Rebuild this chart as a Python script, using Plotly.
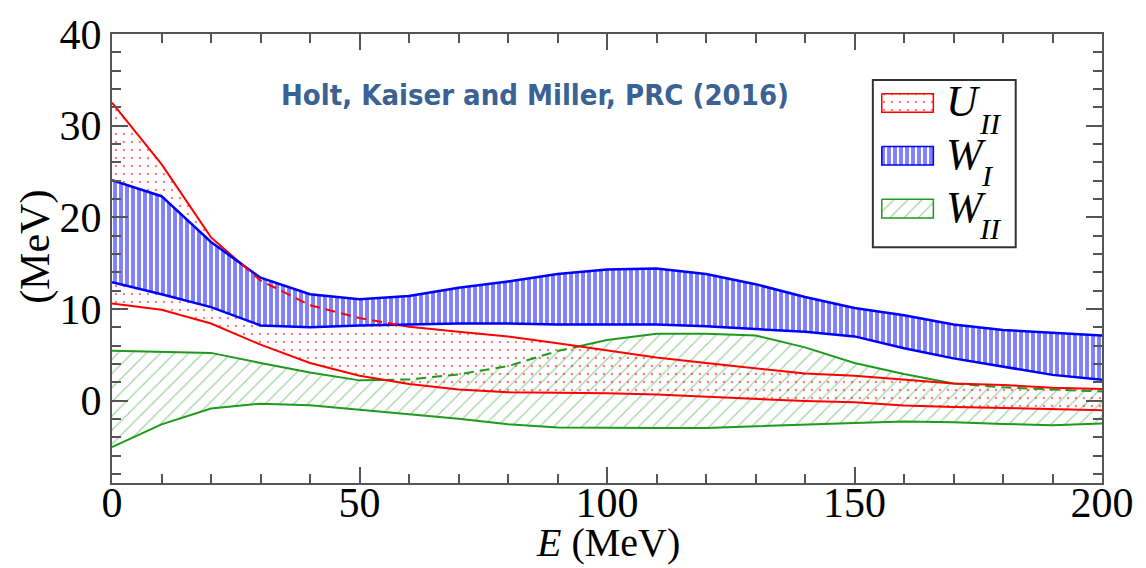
import numpy as np
import plotly.graph_objects as go

# Energy grid (MeV)
E = [0, 10, 20, 30, 40, 50, 60, 70, 80, 90, 100, 110, 120, 130, 140, 150, 160, 170, 180, 190, 200]

# U_II band (MeV)
u2_hi = [32.5, 25.8, 17.8, 13.1, 10.4, 9.0, 8.05, 7.5, 7.0, 6.25, 5.5, 4.7, 4.1, 3.5, 2.95, 2.7, 2.3, 1.87, 1.7, 1.4, 1.26]
u2_lo = [10.6, 9.9, 8.4, 6.1, 4.1, 2.7, 1.8, 1.2, 0.9, 0.85, 0.8, 0.65, 0.4, 0.2, -0.05, -0.2, -0.55, -0.7, -0.8, -0.9, -1.05]

# W_I band (MeV)
w1_hi = [24.05, 22.3, 17.3, 13.4, 11.6, 11.05, 11.4, 12.3, 13.0, 13.8, 14.3, 14.4, 13.8, 12.7, 11.3, 10.1, 9.3, 8.3, 7.7, 7.4, 7.1]
w1_lo = [12.9, 11.6, 10.2, 8.2, 8.0, 8.2, 8.3, 8.4, 8.4, 8.3, 8.3, 8.3, 8.1, 7.8, 7.5, 7.0, 5.7, 4.6, 3.7, 2.8, 2.26]

# W_II band (MeV)
w2_hi = [5.43, 5.3, 5.2, 4.1, 3.05, 2.2, 2.3, 2.85, 3.76, 5.4, 6.6, 7.3, 7.3, 7.1, 5.8, 4.1, 2.9, 1.87, 1.44, 1.2, 0.98]
w2_lo = [-5.07, -2.6, -0.87, -0.34, -0.52, -1.05, -1.5, -2.0, -2.6, -2.95, -3.0, -3.0, -3.0, -2.8, -2.65, -2.45, -2.3, -2.37, -2.55, -2.7, -2.5]

x_ticks = [0, 50, 100, 150, 200]
y_ticks = [0, 10, 20, 30, 40]

RED = "#ff0000"
BLUE = "#0000ff"
GREEN = "#1e9a1e"
AXIS = "#555555"
SERIF = "Liberation Serif, Times New Roman, serif"


def split_by_band(x, y, lo, hi):
    """Split a piecewise-linear curve into the parts outside / inside a band."""
    x = np.asarray(x, float)
    y = np.asarray(y, float)
    g1 = y - np.asarray(lo, float)
    g2 = np.asarray(hi, float) - y
    xb = list(x)
    for g in (g1, g2):
        for i in range(len(x) - 1):
            if g[i] * g[i + 1] < 0:
                t = g[i] / (g[i] - g[i + 1])
                xb.append(x[i] + t * (x[i + 1] - x[i]))
    xb = np.unique(np.array(xb))
    yb = np.interp(xb, x, y)
    out = ([], [])
    ins = ([], [])
    prev = None
    for k in range(len(xb) - 1):
        m = 0.5 * (xb[k] + xb[k + 1])
        inside = np.interp(m, x, g1) > 0 and np.interp(m, x, g2) > 0
        tgt = ins if inside else out
        other = out if inside else ins
        if prev is not None and prev != inside:
            other[0].append(None)
            other[1].append(None)
        if not tgt[0] or tgt[0][-1] != xb[k]:
            tgt[0].append(xb[k])
            tgt[1].append(yb[k])
        tgt[0].append(xb[k + 1])
        tgt[1].append(yb[k + 1])
        prev = inside
    return out, ins


def band(lo, hi, pattern):
    return go.Scatter(
        x=list(E) + list(E)[::-1], y=list(hi) + list(lo)[::-1],
        mode="lines", line=dict(width=0), fill="toself",
        fillcolor="rgba(0,0,0,0)", fillpattern=pattern,
        hoverinfo="skip", showlegend=False)


def line(x, y, color, width=2, dash="solid"):
    return go.Scatter(x=x, y=y, mode="lines", connectgaps=False,
                      line=dict(color=color, width=width, dash=dash),
                      hoverinfo="skip", showlegend=False)


pat_u2 = dict(shape=".", size=8, solidity=0.08, fgcolor=RED, bgcolor="rgba(0,0,0,0)")
pat_w1 = dict(shape="|", size=6, solidity=0.65, fgcolor=BLUE, bgcolor="white")
pat_w2 = dict(shape="/", size=10, solidity=0.15, fgcolor="rgba(40,160,40,0.8)", bgcolor="rgba(0,0,0,0)")

fig = go.Figure()

# Bands
fig.add_trace(band(w2_lo, w2_hi, pat_w2))
fig.add_trace(band(u2_lo, u2_hi, pat_u2))
fig.add_trace(band(w1_lo, w1_hi, pat_w1))

# Band edges; an upper edge is dashed where it runs through another band
DASH = "10px,6px"
fig.add_trace(line(E, w2_lo, GREEN))
g_out, g_in = split_by_band(E, w2_hi, u2_lo, u2_hi)
fig.add_trace(line(g_out[0], g_out[1], GREEN))
fig.add_trace(line(g_in[0], g_in[1], GREEN, dash=DASH))

fig.add_trace(line(E, u2_lo, RED))
r_out, r_in = split_by_band(E, u2_hi, w1_lo, w1_hi)
fig.add_trace(line(r_out[0], r_out[1], RED))

fig.add_trace(line(E, w1_lo, BLUE, width=2.5))
fig.add_trace(line(E, w1_hi, BLUE, width=2.5))
fig.add_trace(line(r_in[0], r_in[1], RED, dash=DASH))

# Legend keys, drawn on a pixel-unit overlay axis
PL, PR, PT, PB, H = 112, 1110, 24, 483, 568
# (key top, key bottom, pattern, colour, letter, letter centre, subscript, subscript centre)
legend_rows = [
    (85, 104, pat_u2, RED, "U", 93.5, "II", 115),
    (139, 158, pat_w1, BLUE, "W", 147.5, "I", 169),
    (193, 212, pat_w2, GREEN, "W", 201, "II", 222.5),
]
annotations = []
for top, bot, pat, col, letter, ly, sub, sy in legend_rows:
    kx = [888, 940, 940, 888, 888]
    ky = [top, top, bot, bot, top]
    fig.add_trace(go.Scatter(x=kx, y=ky, xaxis="x2", yaxis="y2", mode="lines",
                             line=dict(color=col, width=1.5), fill="toself",
                             fillcolor="rgba(0,0,0,0)", fillpattern=pat,
                             hoverinfo="skip", showlegend=False))
    annotations.append(dict(x=951, y=ly, xref="x2", yref="y2", text=f"<i>{letter}</i>",
                            showarrow=False, xanchor="left", yanchor="middle",
                            font=dict(family=SERIF, size=44, color="black")))
    annotations.append(dict(x=984 if sub == "II" else 986, y=sy, xref="x2", yref="y2",
                            text=f"<i>{sub}</i>",
                            showarrow=False, xanchor="left", yanchor="middle",
                            font=dict(family=SERIF, size=30, color="black")))

annotations += [
    dict(x=538, y=86, xref="x2", yref="y2", text="<b>Holt, Kaiser and Miller, PRC (2016)</b>",
         showarrow=False, xanchor="center", yanchor="middle",
         font=dict(family="Liberation Sans Narrow, DejaVu Sans Condensed, Arial Narrow, sans-serif",
                   size=29, color="#3b6294")),
    dict(x=(35 - PL) / (PR - PL), y=(PB - 242) / (PB - PT), xref="paper", yref="paper",
         text="(MeV)", textangle=-90,
         showarrow=False, xanchor="center", yanchor="middle",
         font=dict(family=SERIF, size=42, color="black")),
    dict(x=(612 - PL) / (PR - PL), y=(PB - H) / (PB - PT), xref="paper", yref="paper",
         text="<i>E</i> (MeV)", borderpad=0,
         showarrow=False, xanchor="center", yanchor="bottom",
         font=dict(family=SERIF, size=40, color="black")),
]

shapes = [dict(type="rect", xref="x2", yref="y2", x0=879, x1=1023, y0=71, y1=242,
               line=dict(color="#333333", width=2), fillcolor="rgba(0,0,0,0)")]

axis_common = dict(
    showline=True, linecolor=AXIS, linewidth=2, mirror="ticks",
    ticks="inside", ticklen=16, tickwidth=2, tickcolor=AXIS,
    showgrid=False, zeroline=False,
    tickfont=dict(family=SERIF, size=42, color="black"),
)

fig.update_layout(
    width=1146, height=H,
    margin=dict(l=PL, r=1146 - PR, t=PT, b=H - PB),
    paper_bgcolor="white", plot_bgcolor="white",
    xaxis=dict(range=[0, 200], tickvals=x_ticks, ticklabelstandoff=-18,
               minor=dict(dtick=10, tick0=0, ticks="inside", ticklen=9, tickwidth=2, tickcolor=AXIS),
               **axis_common),
    yaxis=dict(range=[-9, 40], tickvals=y_ticks,
               minor=dict(dtick=2, tick0=0, ticks="inside", ticklen=9, tickwidth=2, tickcolor=AXIS),
               **axis_common),
    xaxis2=dict(range=[PL, PR], overlaying="x", anchor="y2", visible=False),
    yaxis2=dict(range=[PB, PT], overlaying="y", anchor="x2", visible=False),
    annotations=annotations,
    shapes=shapes,
    showlegend=False,
)

fig.write_html("out.html")
